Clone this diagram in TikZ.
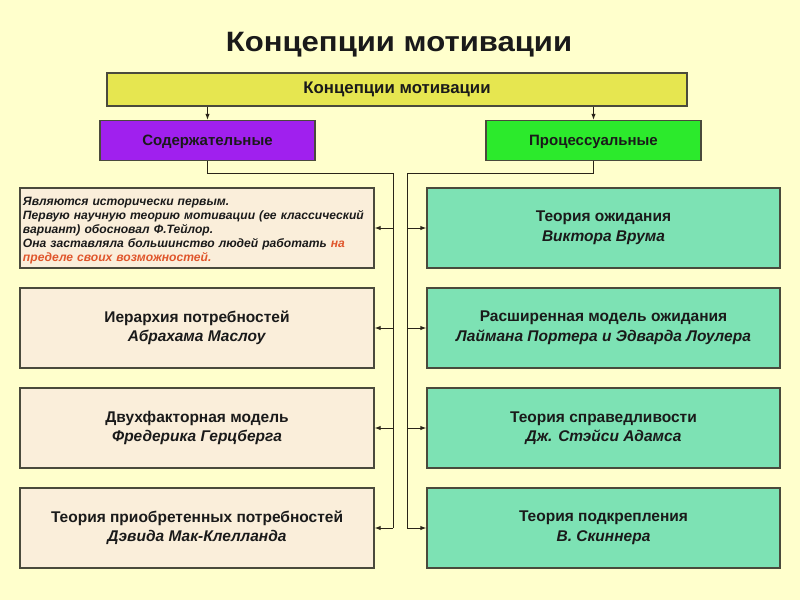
\documentclass[tikz,border=0pt]{standalone}
\usepackage{fontspec}
\setmainfont{Liberation Sans}
\usetikzlibrary{arrows.meta}
\definecolor{bgc}{HTML}{FFFFCC}
\definecolor{yelc}{HTML}{E6E650}
\definecolor{purc}{HTML}{A020EE}
\definecolor{grnc}{HTML}{2CEA2C}
\definecolor{mintc}{HTML}{7DE2B4}
\definecolor{beigec}{HTML}{FAEEDA}
\definecolor{edgec}{HTML}{4A4A3C}
\definecolor{linec}{HTML}{2A2418}
\definecolor{redc}{HTML}{E0562C}
\definecolor{txtc}{HTML}{1A1A1A}
\tikzset{
  boxbase/.style={draw=edgec, line width=1.4pt, text=txtc, font=\bfseries, align=center, inner sep=2pt},
  headbox/.style={boxbase, fill=yelc, minimum width=580pt, minimum height=33pt, font=\bfseries\fontsize{16.8}{19}\selectfont},
  catbox/.style={boxbase, minimum width=215pt, minimum height=40pt, font=\bfseries\fontsize{15}{17}\selectfont},
  lbox/.style={boxbase, fill=beigec, minimum width=354pt, minimum height=80pt, font=\bfseries\fontsize{15.5}{19.5}\selectfont},
  rbox/.style={boxbase, fill=mintc, minimum width=353pt, minimum height=80pt, font=\bfseries\fontsize{15.5}{19.5}\selectfont},
  conn/.style={draw=linec, line width=1pt},
  arr/.style={conn, -{Latex[length=6pt,width=4.5pt]}},
}
\begin{document}
\begin{tikzpicture}[x=1pt,y=-1pt]
\useasboundingbox[fill=bgc] (0,0) rectangle (800,600);
\node[font=\bfseries\fontsize{28}{32}\selectfont, text=txtc] (title) at (399,45) {\scalebox{1.11}[1]{Концепции мотивации}};
\node[headbox] (head) at (397,89.5) {Концепции мотивации};
\node[catbox, fill=purc] (sod) at (207.5,140.5) {\rule{0pt}{13pt}Содержательные};
\node[catbox, fill=grnc] (proc) at (593.5,140.5) {\rule{0pt}{13pt}Процессуальные};
\node[lbox, align=left, text width=348pt, font=\bfseries\itshape\fontsize{12.1}{14}\selectfont, anchor=center] (l1) at (197,228) {\rule{0pt}{14pt}Являются исторически первым.\\Первую научную теорию мотивации (ее классический\\вариант) обосновал Ф.Тейлор.\\Она заставляла большинство людей работать \textcolor{redc}{на}\\\textcolor{redc}{пределе своих возможностей.}};
\node[lbox] (l2) at (197,328) {Иерархия потребностей\\\textit{Абрахама  Маслоу}};
\node[lbox] (l3) at (197,428) {Двухфакторная модель\\\textit{Фредерика Герцберга}};
\node[lbox] (l4) at (197,528) {Теория приобретенных потребностей\\\textit{Дэвида Мак-Клелланда}};
\node[rbox] (r1) at (603.5,228) {Теория ожидания\\\textit{Виктора Врума}};
\node[rbox] (r2) at (603.5,328) {Расширенная модель ожидания\\\textit{Лаймана Портера и  Эдварда Лоулера}};
\node[rbox] (r3) at (603.5,428) {Теория справедливости\\\textit{Дж. Стэйси Адамса}};
\node[rbox] (r4) at (603.5,528) {Теория подкрепления\\\textit{В. Скиннера}};
\draw[arr] (head.south -| sod.north) -- (sod.north);
\draw[arr] (head.south -| proc.north) -- (proc.north);
\coordinate (lt) at (393,173);
\coordinate (rt) at (407,173);
\draw[conn] (sod.south) |- (lt) -- (lt |- l4.east);
\draw[conn] (proc.south) |- (rt) -- (rt |- r4.east);
\foreach \n in {l1,l2,l3,l4}{\draw[arr] (lt |- \n.east) -- (\n.east);}
\foreach \n in {r1,r2,r3,r4}{\draw[arr] (rt |- \n.west) -- (\n.west);}
\end{tikzpicture}
\end{document}
